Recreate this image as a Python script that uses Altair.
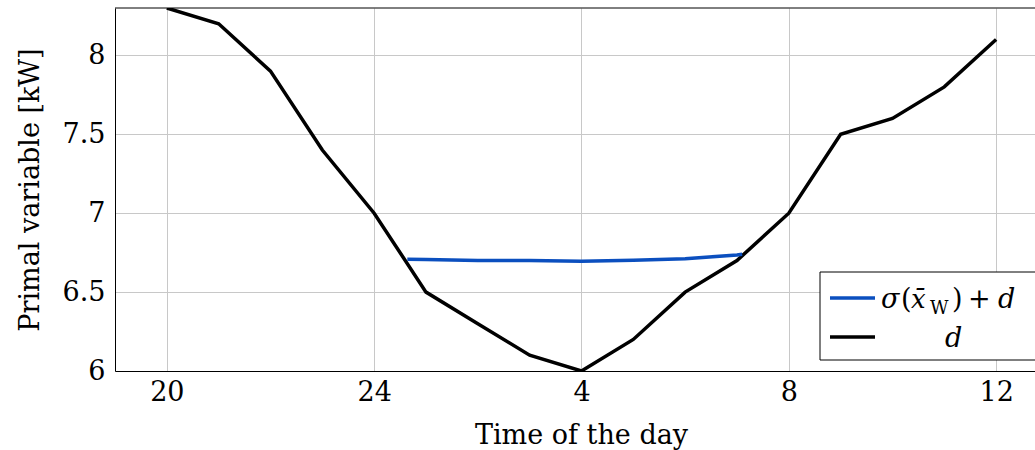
import altair as alt
import pandas as pd

# Demand d over the evening/night (hours past midnight continue as 24+h)
hours = [20, 21, 22, 23, 24, 25, 26, 27, 28, 29, 30, 31, 32, 33, 34, 35, 36]
demand = [8.3, 8.2, 7.9, 7.4, 7.0, 6.5, 6.3, 6.1, 6.0, 6.2, 6.5, 6.7, 7.0, 7.5, 7.6, 7.8, 8.1]

# Shifted profile sigma(x_W) + d during the valley-filling window
shift_hours = [24.64, 25, 26, 27, 28, 29, 30, 31, 31.1]
shift_vals = [6.708, 6.707, 6.700, 6.700, 6.696, 6.702, 6.712, 6.735, 6.740]

tick_hours = [20, 24, 28, 32, 36]
tick_labels = ["20", "24", "4", "8", "12"]

FONT = "'DejaVu Serif', 'Liberation Serif', serif"
W, H = 920, 363
BLUE = "#0b4fbf"

df_d = pd.DataFrame({"hour": hours, "val": demand})
df_s = pd.DataFrame({"hour": shift_hours, "val": shift_vals})

label_map = "{" + ",".join(f"'{h}':'{l}'" for h, l in zip(tick_hours, tick_labels)) + "}"

x_enc = alt.X(
    "hour:Q",
    scale=alt.Scale(domain=[19, 36.75], nice=False, zero=False),
    axis=alt.Axis(
        values=tick_hours,
        labelExpr=f"{label_map}[datum.value]",
        title="Time of the day",
        titleX=466,
        titleY=72,
        titleBaseline="alphabetic",
    ),
)
y_enc = alt.Y(
    "val:Q",
    scale=alt.Scale(domain=[6, 8.3], nice=False, zero=False),
    axis=alt.Axis(
        values=[6, 6.5, 7, 7.5, 8],
        format="~g",
        title="Primal variable [kW]",
        titleX=-85,
        titleY=H / 2,
        titleBaseline="middle",
    ),
)

line_d = alt.Chart(df_d).mark_line(color="black", strokeWidth=3.5, clip=True).encode(x=x_enc, y=y_enc)
line_s = alt.Chart(df_s).mark_line(color=BLUE, strokeWidth=3.5, clip=True).encode(x="hour:Q", y="val:Q")

# Top frame edge
top_rule = alt.Chart().mark_rule(color="black", strokeWidth=1).encode(
    x=alt.value(0), x2=alt.value(W), y=alt.value(0)
)

# Legend box
leg_box = alt.Chart().mark_rect(fill="white", stroke="black", strokeWidth=1).encode(
    x=alt.value(705), x2=alt.value(940), y=alt.value(264), y2=alt.value(352)
)
leg_blue = alt.Chart().mark_rule(color=BLUE, strokeWidth=3.5).encode(
    x=alt.value(715), x2=alt.value(760), y=alt.value(290)
)
leg_black = alt.Chart().mark_rule(color="black", strokeWidth=3.5).encode(
    x=alt.value(715), x2=alt.value(760), y=alt.value(329)
)


def txt(s, x, y, size=27, style="normal"):
    return alt.Chart().mark_text(
        text=s, font=FONT, fontSize=size, fontStyle=style, align="left", baseline="alphabetic", color="black"
    ).encode(x=alt.value(x), y=alt.value(y))


legend_text = [
    txt("σ", 766, 300, style="italic"),
    txt("(", 786, 300),
    txt("x̄", 796, 300, size=26, style="italic"),
    txt("W", 815, 306, size=18),
    txt(")", 837, 300),
    txt("+", 853, 300),
    txt("d", 883, 300, style="italic"),
    txt("d", 830, 339, style="italic"),
]

chart = alt.layer(line_d, line_s, top_rule, leg_box, leg_blue, leg_black, *legend_text).properties(
    width=W,
    height=H,
    autosize=alt.AutoSizeParams(type="none"),
    padding={"left": 115, "top": 8, "right": 0, "bottom": 79},
).configure_view(stroke=None).configure_axis(
    grid=True,
    gridColor="#c8c8c8",
    gridWidth=1,
    domainColor="black",
    domainWidth=1,
    ticks=False,
    labelFont=FONT,
    labelFontSize=27,
    labelColor="black",
    titleFont=FONT,
    titleFontSize=27,
    titleFontWeight="normal",
    titleColor="black",
).configure_axisX(labelPadding=8).configure_axisY(labelPadding=10)

chart.save("out.html", embed_options={"renderer": "svg", "actions": False})
